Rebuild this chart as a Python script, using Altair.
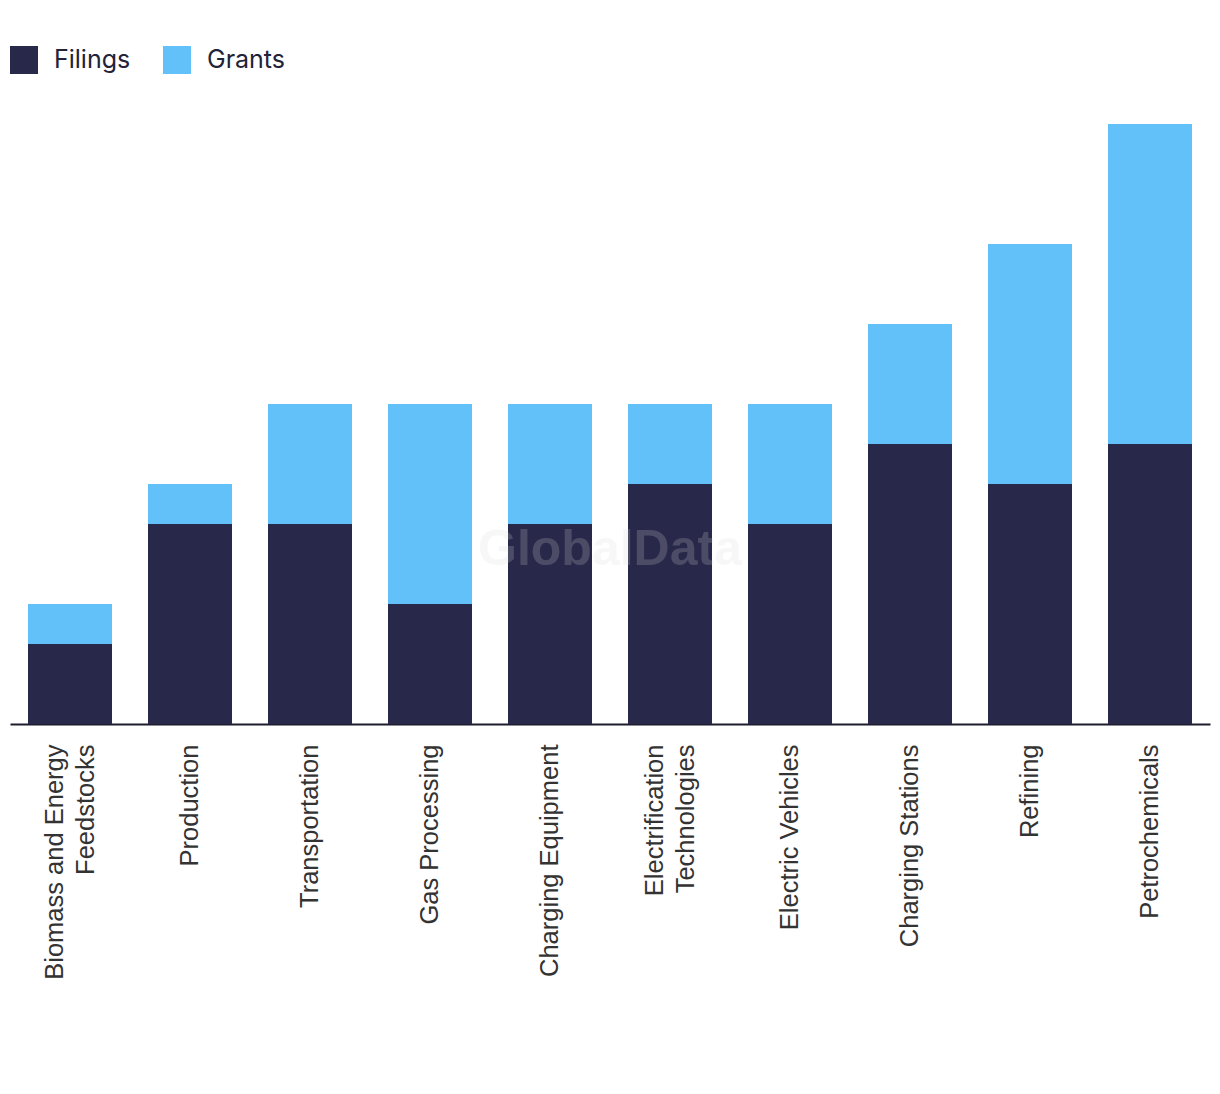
import altair as alt
import pandas as pd

categories = [
    "Biomass and Energy Feedstocks", "Production", "Transportation", "Gas Processing",
    "Charging Equipment", "Electrification Technologies", "Electric Vehicles",
    "Charging Stations", "Refining", "Petrochemicals",
]
filings = [2, 5, 5, 3, 5, 6, 5, 7, 6, 7]
grants = [1, 1, 3, 5, 3, 2, 3, 3, 6, 8]
series = ["Filings", "Grants"]
colors = ["#28284a", "#62c1f8"]

rows = []
for c, f, g in zip(categories, filings, grants):
    rows.append({"category": c, "series": "Filings", "value": f, "order": 0})
    rows.append({"category": c, "series": "Grants", "value": g, "order": 1})
df = pd.DataFrame(rows)

label_expr = (
    "datum.label == 'Biomass and Energy Feedstocks' ? ['Biomass and Energy', 'Feedstocks'] : "
    "datum.label == 'Electrification Technologies' ? ['Electrification', 'Technologies'] : datum.label"
)
two_line_test = ("datum.value == 'Biomass and Energy Feedstocks' || "
                 "datum.value == 'Electrification Technologies'")

bars = alt.Chart(df).mark_bar().encode(
    x=alt.X("category:N", sort=categories, title=None,
            scale=alt.Scale(paddingInner=0.3, paddingOuter=0.15),
            axis=alt.Axis(labelAngle=-90, labelAlign="right", labelBaseline="middle",
                          labelPadding=20, labelFontSize=25.5, labelFont="Liberation Sans",
                          labelColor="#333333", labelLineHeight=31, ticks=False, labelLimit=0,
                          labelOffset={"condition": {"test": two_line_test, "value": -15},
                                       "value": 0},
                          domainColor="#1c1c2e", domainWidth=2, labelExpr=label_expr)),
    y=alt.Y("value:Q", stack="zero", title=None,
            scale=alt.Scale(domain=[0, 15], nice=False), axis=None),
    color=alt.Color("series:N", scale=alt.Scale(domain=series, range=colors),
                    legend=alt.Legend(title=None, orient="none", legendX=0, legendY=-78,
                                      direction="horizontal", symbolType="square",
                                      symbolSize=784, symbolStrokeWidth=0,
                                      labelFontSize=25, labelFont="Inter",
                                      labelColor="#222238", labelOffset=16,
                                      columnPadding=32)),
    order=alt.Order("order:Q"),
)

wm = alt.Chart(pd.DataFrame({"t": ["GlobalData"]})).mark_text(
    fontSize=50, fontWeight="bold", font="Liberation Sans", color="#dcdcdc", opacity=0.2,
    align="center", baseline="middle"
).encode(text="t:N", x=alt.value(600), y=alt.value(426))

chart = alt.layer(bars, wm).properties(
    width=1200, height=600,
    autosize=alt.AutoSizeParams(type="none"),
    padding={"left": 10, "top": 124, "right": 10, "bottom": 370},
).configure_view(stroke=None)

chart.save("out.html", embed_options={"renderer": "svg", "actions": False})
